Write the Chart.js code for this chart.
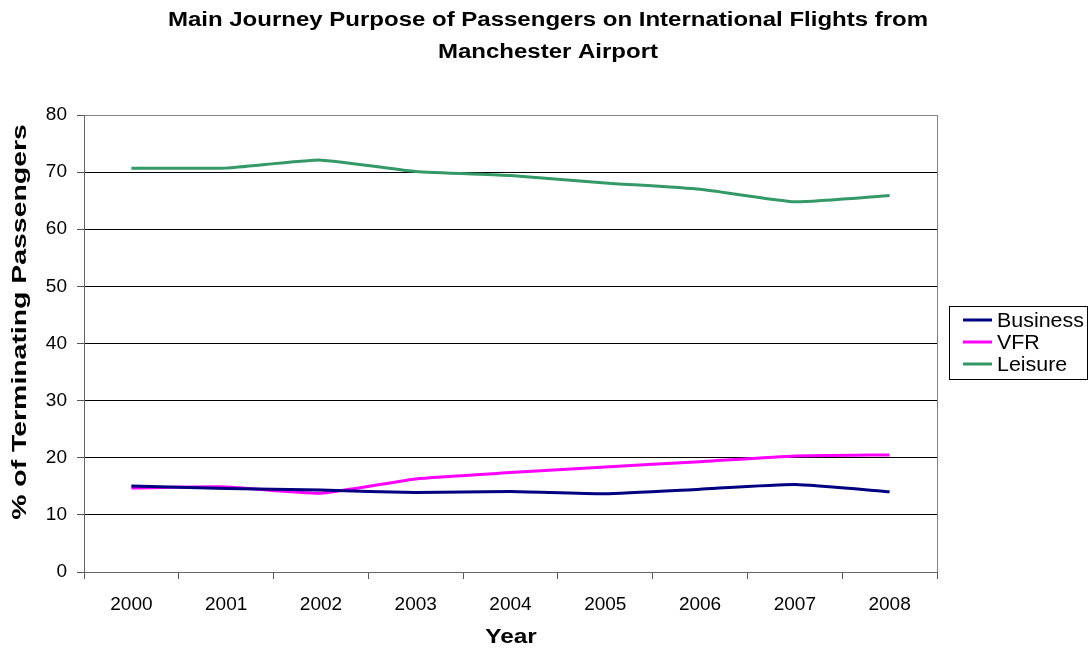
<!DOCTYPE html>
<html>
<head>
<meta charset="utf-8">
<script src="https://cdn.jsdelivr.net/npm/chart.js@4/dist/chart.umd.min.js"></script>
<style>
  body { margin: 0; background: #fff; }
</style>
</head>
<body>
<canvas id="myChart" width="1091" height="648"></canvas>
<script>
const years = ['2000', '2001', '2002', '2003', '2004', '2005', '2006', '2007', '2008'];
const business = [15.05, 14.6, 14.35, 13.9, 14.1, 13.7, 14.5, 15.3, 14.05];
const vfr = [14.7, 14.9, 13.8, 16.3, 17.4, 18.4, 19.3, 20.3, 20.5];
const leisure = [70.7, 70.7, 72.1, 70.1, 69.4, 68.1, 67.0, 64.8, 65.9];

const titleLines = ['Main Journey Purpose of Passengers on International Flights from', 'Manchester Airport'];
const xTitle = 'Year';
const yTitle = '% of Terminating Passengers';

const font = 'Liberation Sans, Arial, sans-serif';

// draw text stretched sideways, like the old Excel export
function wideText(c, text, x, y, sx, rot) {
  c.save();
  c.translate(x, y);
  if (rot) c.rotate(rot);
  c.scale(sx, 1);
  c.fillText(text, 0, 0);
  c.restore();
}

const framePlugin = {
  id: 'frame',
  beforeDatasetsDraw(chart) {
    const a = chart.chartArea;
    const c = chart.ctx;
    c.save();
    c.strokeStyle = '#808080';
    c.lineWidth = 1;
    c.beginPath();
    c.moveTo(a.left, a.top + 0.5);
    c.lineTo(a.right + 0.5, a.top + 0.5);
    c.lineTo(a.right + 0.5, a.bottom);
    c.stroke();
    c.restore();
  },
  afterDraw(chart) {
    const c = chart.ctx;
    c.save();
    c.fillStyle = '#000';
    c.textAlign = 'center';
    c.textBaseline = 'middle';
    c.font = 'bold 20px ' + font;
    wideText(c, titleLines[0], 548, 20, 1.2);
    wideText(c, titleLines[1], 548, 52, 1.2);
    wideText(c, xTitle, 511, 637, 1.22);
    wideText(c, yTitle, 20, 322, 1.42, -Math.PI / 2);

    // boxed legend on the right
    const x = 949, y = 306, w = 138, h = 73;
    c.strokeStyle = '#000';
    c.lineWidth = 1;
    c.strokeRect(x + 0.5, y + 0.5, w, h);
    c.font = '20px ' + font;
    c.textAlign = 'left';
    chart.data.datasets.forEach((ds, i) => {
      const ly = 320 + i * 22;
      c.strokeStyle = ds.borderColor;
      c.lineWidth = 3;
      c.beginPath();
      c.moveTo(963, ly);
      c.lineTo(992, ly);
      c.stroke();
      wideText(c, ds.label, 997, ly + 1, 1.07);
    });
    c.restore();
  }
};

new Chart(document.getElementById('myChart'), {
  type: 'line',
  data: {
    labels: years,
    datasets: [
      { label: 'Business', data: business, borderColor: '#000080' },
      { label: 'VFR', data: vfr, borderColor: '#FF00FF' },
      { label: 'Leisure', data: leisure, borderColor: '#339966' }
    ]
  },
  options: {
    responsive: false,
    animation: false,
    layout: { padding: { left: 0, right: 154, top: 115, bottom: 0 } },
    elements: {
      line: { borderWidth: 3, tension: 0.15, fill: false },
      point: { radius: 0 }
    },
    plugins: {
      legend: { display: false },
      tooltip: { enabled: false },
      title: { display: false }
    },
    scales: {
      x: {
        offset: true,
        afterFit(scale) { scale.height = 76; },
        grid: { offset: true, drawOnChartArea: false, tickLength: 7, tickColor: '#555' },
        border: { color: '#666' },
        ticks: { color: '#000', font: { family: font, size: 19 }, padding: 14, maxRotation: 0 }
      },
      y: {
        min: 0,
        max: 80,
        afterFit(scale) { scale.width = 84; },
        grid: {
          tickLength: 7,
          tickColor: '#555',
          color: ctx => ctx.tick && ctx.tick.value === 80 ? '#808080' : (ctx.tick && ctx.tick.value === 0 ? 'rgba(0,0,0,0)' : '#000')
        },
        border: { color: '#666' },
        ticks: { stepSize: 10, color: '#000', font: { family: font, size: 19 }, padding: 10 }
      }
    }
  },
  plugins: [framePlugin]
});
</script>
</body>
</html>
